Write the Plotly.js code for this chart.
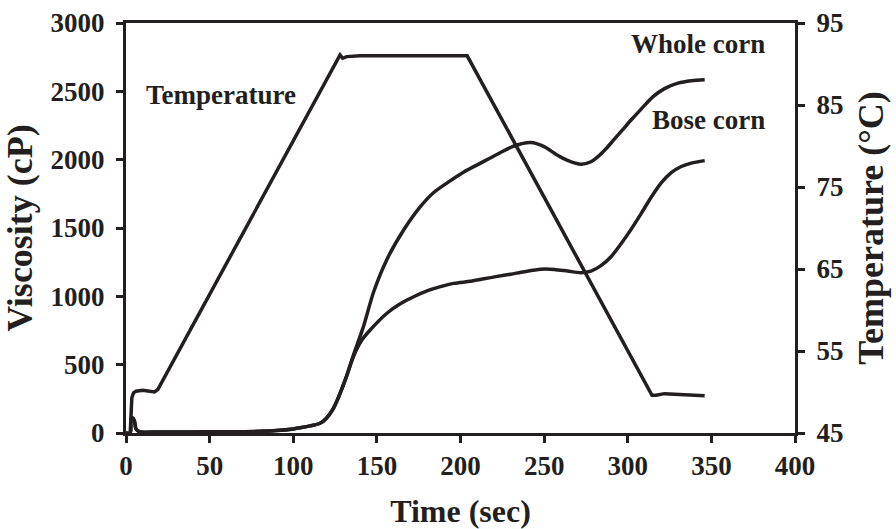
<!DOCTYPE html>
<html>
<head>
<meta charset="utf-8">
<script src="https://cdn.plot.ly/plotly-3.0.1.min.js"></script>
<style>html,body{margin:0;padding:0;background:#fff;}#chart{width:896px;height:529px;}</style>
</head>
<body>
<div id="chart"></div>
<script>
// Temperature profile (°C, right axis)
const tempTime = [2.5, 3, 3.5, 4.5, 6, 10, 14, 17, 19, 128, 129.5, 132, 140, 160, 180, 200, 204, 314.5, 317, 322, 328, 335, 346];
const tempVal  = [45, 47.5, 49.3, 49.9, 50.1, 50.2, 50.1, 50.0, 50.3, 91.1, 90.7, 90.9, 91.0, 91.05, 91.0, 91.0, 91.0, 49.6, 49.6, 49.8, 49.75, 49.65, 49.55];

// Whole corn viscosity (cP)
const wholeTime = [0, 2.5, 3, 4, 5, 6, 8, 20, 40, 60, 80, 90, 100, 105, 110, 116, 120, 124, 128, 132, 136, 142, 148, 156, 166, 176, 184, 192, 202, 212, 222, 232, 242, 250, 257, 264, 272, 278, 282, 287, 292, 297, 302, 308, 315, 322, 330, 338, 346];
const wholeVisc = [0, 0, 100, 110, 90, 30, 10, 8, 8, 9, 12, 18, 30, 40, 52, 71, 110, 180, 290, 420, 570, 780, 1030, 1270, 1485, 1656, 1760, 1830, 1910, 1975, 2040, 2100, 2125, 2095, 2040, 1995, 1966, 1985, 2020, 2080, 2150, 2220, 2290, 2370, 2460, 2520, 2560, 2578, 2585];

// Bose corn viscosity (cP)
const boseTime = [0, 2.5, 3, 4, 5, 6, 8, 20, 40, 60, 80, 90, 100, 105, 110, 116, 120, 124, 128, 132, 136, 141, 146, 156, 164, 172, 180, 188, 196, 206, 214, 222, 230, 238, 248, 256, 264, 272, 278, 284, 290, 296, 302, 308, 314, 320, 326, 332, 338, 346];
const boseVisc = [0, 0, 100, 110, 90, 30, 10, 8, 8, 9, 12, 18, 30, 40, 52, 71, 110, 180, 290, 420, 560, 680, 754, 876, 945, 997, 1040, 1071, 1095, 1110, 1128, 1146, 1162, 1180, 1198, 1197, 1185, 1173, 1185, 1225, 1290, 1385, 1490, 1605, 1725, 1830, 1905, 1950, 1975, 1993];

// Tick labels
const xTicks = [0, 50, 100, 150, 200, 250, 300, 350, 400];
const yTicks = [0, 500, 1000, 1500, 2000, 2500, 3000];
const y2Ticks = [45, 55, 65, 75, 85, 95];

const ink = '#231f20';
const fam = 'Liberation Serif, Times New Roman, serif';

const traces = [
  {x: wholeTime, y: wholeVisc, mode: 'lines', line: {color: ink, width: 3.5, shape: 'spline', smoothing: 0.8}, yaxis: 'y', hoverinfo: 'skip'},
  {x: boseTime, y: boseVisc, mode: 'lines', line: {color: ink, width: 3.5, shape: 'spline', smoothing: 0.8}, yaxis: 'y', hoverinfo: 'skip'},
  {x: tempTime, y: tempVal, mode: 'lines', line: {color: ink, width: 3.5}, yaxis: 'y2', hoverinfo: 'skip'}
];

const axisCommon = {
  showgrid: false, zeroline: false, showline: true, linecolor: ink, linewidth: 3,
  ticks: 'outside', ticklen: 7, tickwidth: 3, tickcolor: ink,
  tickfont: {family: fam, size: 27, color: ink, weight: 'bold'}
};

const layout = {
  width: 896, height: 529,
  margin: {l: 126, r: 101, t: 23, b: 96},
  paper_bgcolor: '#fff', plot_bgcolor: '#fff',
  showlegend: false,
  font: {family: fam, color: ink, weight: 'bold'},
  xaxis: Object.assign({}, axisCommon, {
    range: [0, 400], tickvals: xTicks, ticktext: xTicks.map(String), mirror: true,
    title: {text: 'Time (sec)', font: {family: fam, size: 32, color: ink, weight: 'bold'}, standoff: 22}
  }),
  yaxis: Object.assign({}, axisCommon, {
    range: [0, 3000], tickvals: yTicks, ticktext: yTicks.map(String),
    ticklabelstandoff: 6,
    title: {text: 'Viscosity (cP)', font: {family: fam, size: 36, color: ink, weight: 'bold'}, standoff: 8}
  }),
  yaxis2: Object.assign({}, axisCommon, {
    range: [45, 95], tickvals: y2Ticks, ticktext: y2Ticks.map(String),
    overlaying: 'y', side: 'right', ticklabelstandoff: 6,
    title: {text: 'Temperature (°C)', font: {family: fam, size: 36, color: ink, weight: 'bold'}, standoff: 16}
  }),
  annotations: [
    {x: 56.5, y: 2471, xref: 'x', yref: 'y', text: 'Temperature', showarrow: false, xanchor: 'center', yanchor: 'middle', font: {family: fam, size: 27, color: ink, weight: 'bold'}},
    {x: 383.3, y: 2844, xref: 'x', yref: 'y', text: 'Whole corn', showarrow: false, xanchor: 'right', yanchor: 'middle', font: {family: fam, size: 27, color: ink, weight: 'bold'}},
    {x: 383.3, y: 2288, xref: 'x', yref: 'y', text: 'Bose corn', showarrow: false, xanchor: 'right', yanchor: 'middle', font: {family: fam, size: 27, color: ink, weight: 'bold'}}
  ]
};

Plotly.newPlot('chart', traces, layout, {staticPlot: true, displayModeBar: false});
</script>
</body>
</html>
